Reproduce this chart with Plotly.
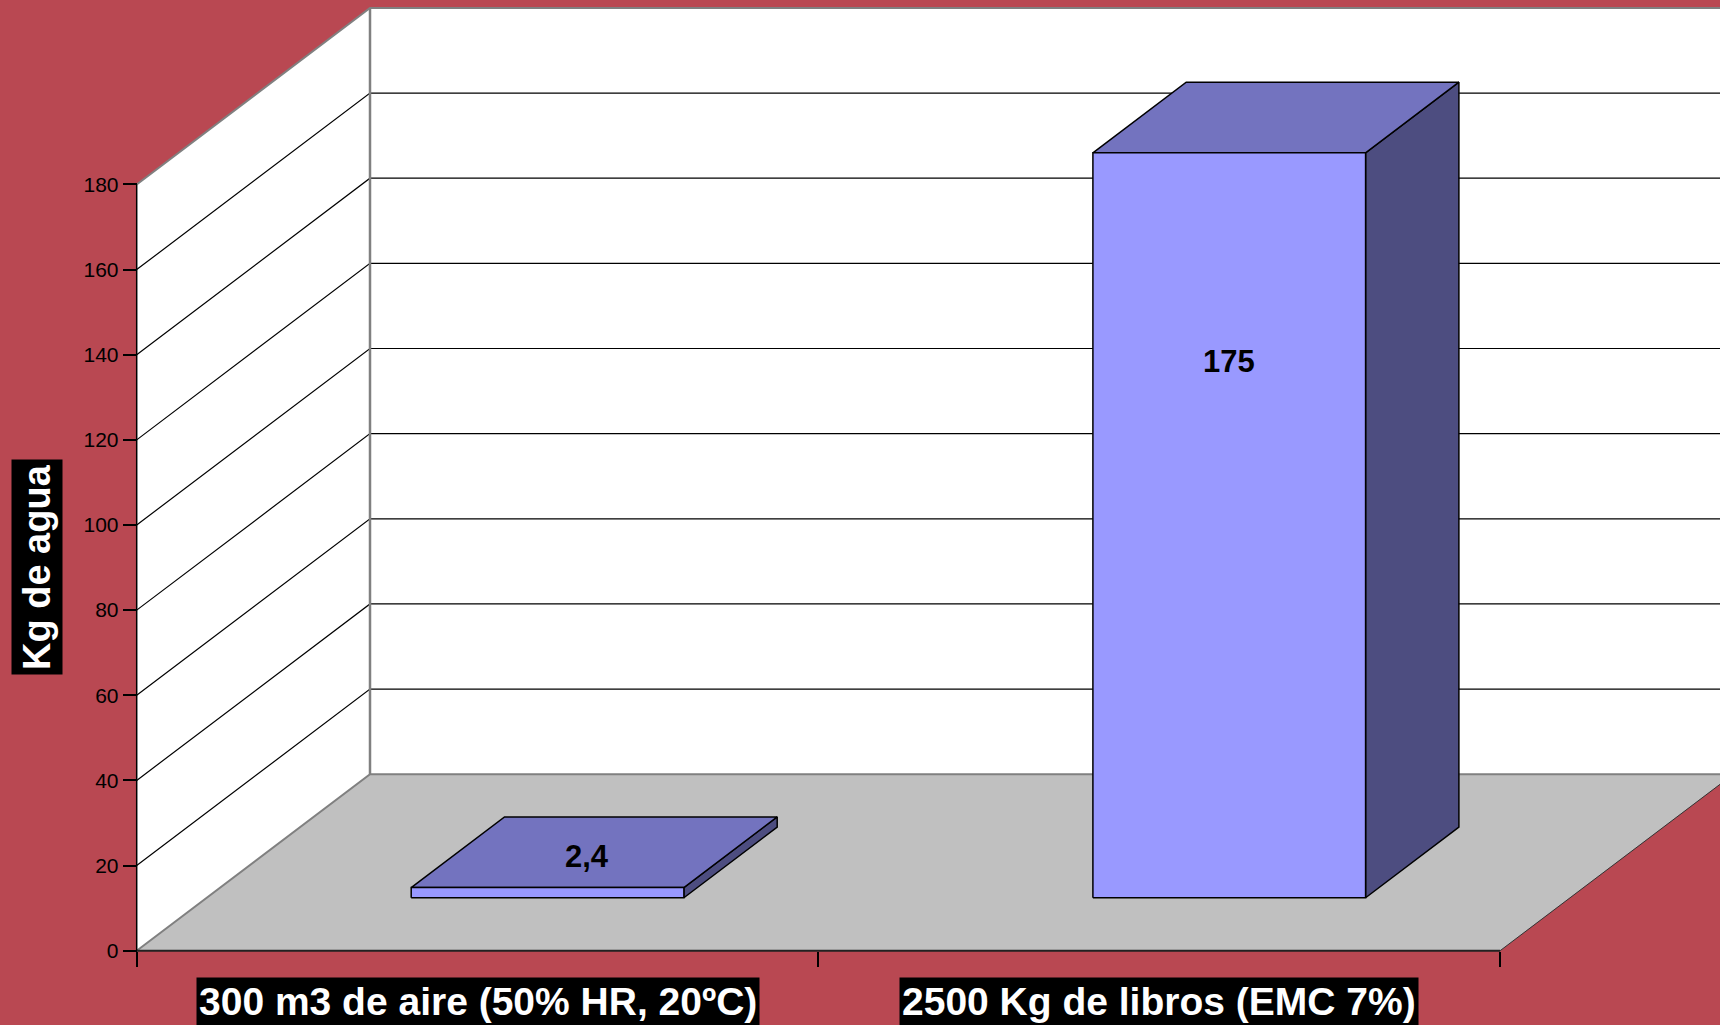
import plotly.graph_objects as go

# --- data -------------------------------------------------------------
categories = ["300 m3 de aire (50% HR, 20ºC)", "2500 Kg de libros (EMC 7%)"]
water_kg = [2.4, 175]
value_labels = ["2,4", "175"]
y_ticks = [0, 20, 40, 60, 80, 100, 120, 140, 160, 180]
y_title = "Kg de agua"

# --- geometry of the oblique 3-D frame (pixels) -----------------------
W, H = 1720, 1025
FRONT_LEFT_PX = 136.7      # x pixel of the front value axis
CAT_PX = 681.7             # width of one category on the front edge
ZERO_PX = 950.7            # y pixel of value 0 on the front plane
UNIT_PX = 4.257            # pixels per kg
DEPTH_DX_PX, DEPTH_DY_PX = 233.3, 176.5   # offset of the back wall

DX = DEPTH_DX_PX / CAT_PX          # depth shift in category units
DY = DEPTH_DY_PX / UNIT_PX         # depth shift in value units
Y_MAX = y_ticks[-1]
N = len(categories)

BAR_W = 0.4        # bar width as a share of a category
BAR_D0, BAR_D1 = 0.3, 0.7          # bar depth span

# colours
RED = "#B94852"
FLOOR = "#C0C0C0"
EDGE = "#808080"
FRONT = "#9999FF"
TOP = "#7373BF"
SIDE = "#4D4D80"
FONT = "Arial, Liberation Sans, sans-serif"

x_range = [-FRONT_LEFT_PX / CAT_PX, (W - FRONT_LEFT_PX) / CAT_PX]
y_range = [-(H - ZERO_PX) / UNIT_PX, ZERO_PX / UNIT_PX]


def proj(x, y, d):
    """Oblique projection of (category x, value y, depth d) onto the plane."""
    return x + d * DX, y + d * DY


fig = go.Figure()


def poly(pts, fill, line_color="rgba(0,0,0,0)", line_width=0):
    xs, ys = zip(*[proj(*p) for p in pts])
    xs = list(xs) + [xs[0]]
    ys = list(ys) + [ys[0]]
    fig.add_trace(go.Scatter(x=xs, y=ys, mode="lines", fill="toself",
                             fillcolor=fill,
                             line=dict(color=line_color, width=line_width),
                             hoverinfo="skip", showlegend=False))


def path(pts, color, width):
    xs, ys = zip(*[proj(*p) for p in pts])
    fig.add_trace(go.Scatter(x=list(xs), y=list(ys), mode="lines",
                             line=dict(color=color, width=width),
                             hoverinfo="skip", showlegend=False))


# walls and floor
poly([(0, 0, 1), (N, 0, 1), (N, Y_MAX, 1), (0, Y_MAX, 1)], "white")
poly([(0, 0, 0), (0, 0, 1), (0, Y_MAX, 1), (0, Y_MAX, 0)], "white")
poly([(0, 0, 0), (N, 0, 0), (N, 0, 1), (0, 0, 1)], FLOOR)

# gridlines on side and back walls
for v in y_ticks[1:-1]:
    path([(0, v, 0), (0, v, 1), (N, v, 1)], "black", 1.2)

# wall edges
path([(0, Y_MAX, 0), (0, Y_MAX, 1), (N, Y_MAX, 1)], EDGE, 2)
path([(0, 0, 1), (0, Y_MAX, 1)], EDGE, 2.5)
path([(0, 0, 0), (0, 0, 1), (N, 0, 1)], EDGE, 2)
path([(N, 0, 0), (N, 0, 1)], "#333333", 1)

# bars
for i, v in enumerate(water_kg):
    x0 = i + (1 - BAR_W) / 2
    x1 = x0 + BAR_W
    poly([(x1, 0, BAR_D0), (x1, 0, BAR_D1), (x1, v, BAR_D1), (x1, v, BAR_D0)],
         SIDE, "black", 1.5)
    poly([(x0, v, BAR_D0), (x1, v, BAR_D0), (x1, v, BAR_D1), (x0, v, BAR_D1)],
         TOP, "black", 1.5)
    poly([(x0, 0, BAR_D0), (x1, 0, BAR_D0), (x1, v, BAR_D0), (x0, v, BAR_D0)],
         FRONT, "black", 1.5)

# front axis lines
path([(0, 0, 0), (0, Y_MAX, 0)], "black", 1.5)
path([(0, 0, 0), (N, 0, 0)], "#222222", 2)

# value labels: on the top face for flat bars, inside the front face otherwise
annotations = []
for i, (v, txt) in enumerate(zip(water_kg, value_labels)):
    cx = i + 0.5
    if v * UNIT_PX < 40:
        lx, ly = proj(cx - 0.01, v - 1, (BAR_D0 + BAR_D1) / 2)
    else:
        lx, ly = proj(cx, v * 0.72, BAR_D0)
    annotations.append(dict(x=lx, y=ly, xref="x", yref="y", text=f"<b>{txt}</b>",
                            showarrow=False, font=dict(family=FONT, size=31, color="black"),
                            xanchor="center", yanchor="middle"))

# category labels in black boxes
for i, c in enumerate(categories):
    annotations.append(dict(x=i + 0.5, y=(H - 977) / H, xref="x", yref="paper",
                            text=f"<b>{c}</b>", showarrow=False,
                            font=dict(family=FONT, size=39, color="white"),
                            bgcolor="black", borderpad=2,
                            xanchor="center", yanchor="top"))

# value axis title
annotations.append(dict(x=37 / W, y=(H - 567) / H, xref="paper", yref="paper",
                        text=f"<b>{y_title}</b>", textangle=-90, showarrow=False,
                        font=dict(family=FONT, size=38, color="white"),
                        bgcolor="black", borderpad=4,
                        xanchor="center", yanchor="middle"))

fig.update_layout(
    width=W, height=H, autosize=False,
    margin=dict(l=0, r=0, t=0, b=0),
    paper_bgcolor=RED, plot_bgcolor=RED,
    showlegend=False,
    annotations=annotations,
    xaxis=dict(range=x_range, domain=[0, 1], anchor="free",
               position=(H - ZERO_PX) / H,
               tickvals=list(range(N + 1)), showticklabels=False,
               ticks="outside", ticklen=15, tickwidth=1.5, tickcolor="black",
               showgrid=False, zeroline=False, showline=False,
               fixedrange=True, automargin=False),
    yaxis=dict(range=y_range, domain=[0, 1], anchor="free",
               position=FRONT_LEFT_PX / W,
               tickvals=y_ticks, ticks="outside", ticklen=14, tickwidth=1.5,
               tickcolor="black",
               tickfont=dict(family=FONT, size=21, color="black"),
               showgrid=False, zeroline=False, showline=False,
               fixedrange=True, automargin=False),
)

fig.write_html("out.html")
